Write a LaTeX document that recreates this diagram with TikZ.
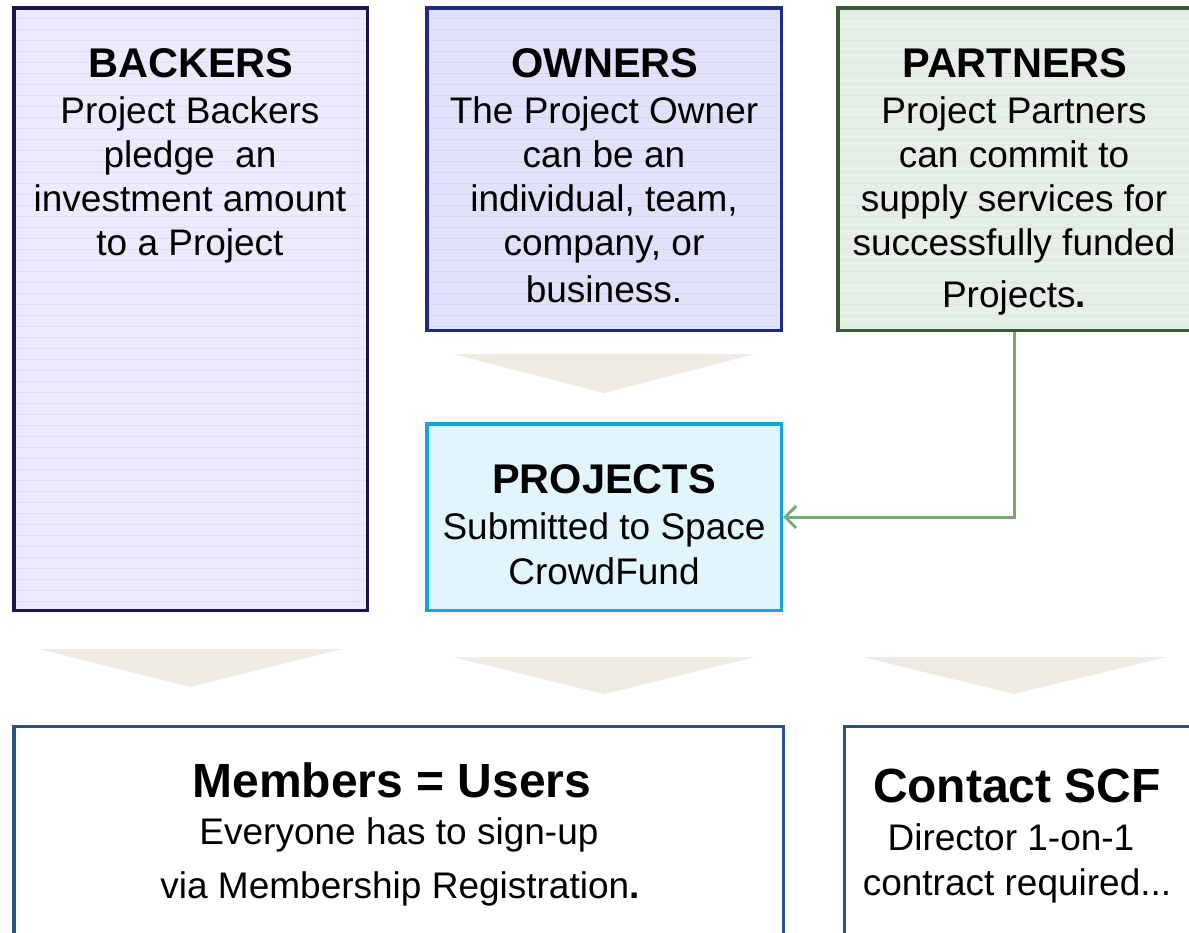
\documentclass[tikz,border=0pt]{standalone}
\usepackage{fontspec}
\setmainfont{Liberation Sans}
\usetikzlibrary{arrows.meta}
\definecolor{bkB}{HTML}{1E1450}
\definecolor{bkF}{HTML}{EEEAFD}
\definecolor{bkL}{HTML}{E2DEF5}
\definecolor{owB}{HTML}{1F2A80}
\definecolor{owF}{HTML}{DFE2F8}
\definecolor{owL}{HTML}{D4D7F0}
\definecolor{paB}{HTML}{3A5A3A}
\definecolor{paF}{HTML}{E6EFE5}
\definecolor{paL}{HTML}{DCE6DB}
\definecolor{prB}{HTML}{12A4DC}
\definecolor{prF}{HTML}{E2F5FD}
\definecolor{triF}{HTML}{EDEBE2}
\definecolor{mbB}{HTML}{2C5088}
\definecolor{grA}{HTML}{78AA78}
\begin{document}
\begin{tikzpicture}[x=1pt,y=-1pt,
  box/.style={draw, line width=3.5pt, rectangle, inner sep=0pt},
  texture/.style={path picture={\foreach \k in {1,...,60}
     \draw[#1, line width=0.8pt] ([yshift=-\k*11pt]path picture bounding box.north west) -- ([yshift=-\k*11pt]path picture bounding box.north east);}},
  ttl/.style={anchor=base, font=\bfseries\fontsize{41.5}{44}\selectfont, inner sep=0pt},
  big/.style={anchor=base, font=\bfseries\fontsize{48}{52}\selectfont, inner sep=0pt},
  txt/.style={anchor=base, font=\fontsize{37}{44}\selectfont, inner sep=0pt},
  tri/.style={fill=triF},
  conn/.style={draw=grA, line width=3pt, -{Straight Barb[length=11pt,width=22pt,line width=3pt]}}]
\useasboundingbox (0,0) rectangle (1189,932);
\clip (0,0) rectangle (1189,932);
\fill[white] (0,0) rectangle (1189,932);

% boxes
\node[box, draw=bkB, fill=bkF, texture=bkL, minimum width=353.5pt, minimum height=602.5pt] (backers) at (190.5,309) {};
\node[box, draw=owB, fill=owF, texture=owL, minimum width=354.5pt, minimum height=322.5pt] (owners) at (604,169) {};
\node[box, draw=paB, fill=paF, texture=paL, minimum width=352.5pt, minimum height=322.5pt] (partners) at (1014,169) {};
\node[box, draw=prB, fill=prF, minimum width=354.5pt, minimum height=186.5pt] (projects) at (604,517) {};
\node[box, draw=mbB, fill=white, minimum width=769.5pt, minimum height=274pt] (members) at (398.5,863.5) {};
\node[box, draw=mbB, fill=white, minimum width=360pt, minimum height=274pt] (contact) at (1024.5,863.5) {};

% triangles
\fill[tri] (453,354) -- (755,354) -- (604,393) -- cycle;
\fill[tri] (39,649) -- (342,649) -- (190,687) -- cycle;
\fill[tri] (453,657) -- (755,657) -- (604,694) -- cycle;
\fill[tri] (863,657) -- (1166,657) -- (1014,694) -- cycle;

% connector
\draw[conn] (partners.south) |- (projects.east);

% backers text
\node[ttl] (b0) at (191,77) {BACKERS};
\node[txt] (b1) at (190,123) {Project Backers};
\node[txt] (b2) at (190,167) {pledge\ \ an};
\node[txt] (b3) at (190,211) {investment amount};
\node[txt] (b4) at (190,255) {to a Project};

% owners text
\node[ttl] (o0) at (605,77) {OWNERS};
\node[txt] (o1) at (604,123) {The Project Owner};
\node[txt] (o2) at (604,167) {can be an};
\node[txt] (o3) at (604,211) {individual, team,};
\node[txt] (o4) at (604,255) {company, or};
\node[txt] (o5) at (604,302) {business.};

% partners text
\node[ttl] (p0) at (1015,77) {PARTNERS};
\node[txt] (p1) at (1014,123) {Project Partners};
\node[txt] (p2) at (1014,167) {can commit to};
\node[txt] (p3) at (1014,211) {supply services for};
\node[txt] (p4) at (1014,255) {successfully funded};
\node[txt] (p5) at (1014,307) {Projects\textbf{.}};

% projects text
\node[ttl] (j0) at (604,493) {PROJECTS};
\node[txt] (j1) at (604,539) {Submitted to Space};
\node[txt] (j2) at (604,584) {CrowdFund};

% members text
\node[big] (m0) at (392,797) {Members = Users};
\node[txt] (m1) at (399,844) {Everyone has to sign-up};
\node[txt] (m2) at (400,898) {via Membership Registration\textbf{.}};

% contact text
\node[big] (c0) at (1017,802) {Contact SCF};
\node[txt] (c1) at (1011,850) {Director 1-on-1};
\node[txt] (c2) at (1017,895) {contract required...};
\end{tikzpicture}
\end{document}
